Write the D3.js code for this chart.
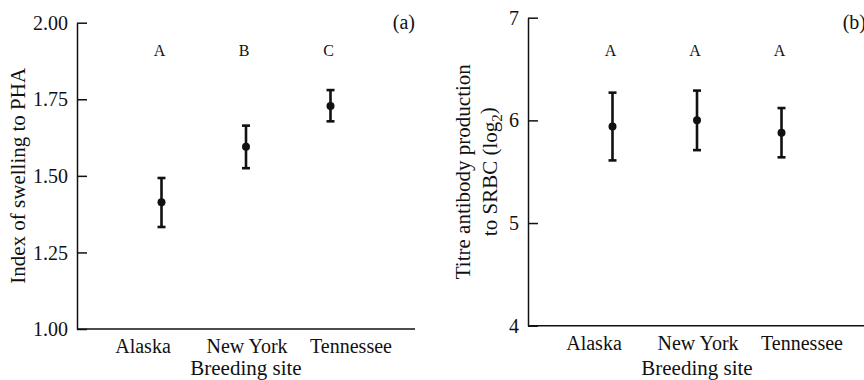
<!DOCTYPE html>
<html>
<head>
<meta charset="utf-8">
<script src="https://cdn.jsdelivr.net/npm/d3@7"></script>
<style>
  body { margin: 0; background: #fff; }
  svg { display: block; }
  svg text { font-family: "Liberation Serif", "Tinos", "Times New Roman", "DejaVu Serif", serif; fill: #111; }
  .axis path, .axis line { stroke: #111; stroke-width: 1.5; }
</style>
</head>
<body>
<svg id="chart" width="864" height="380"></svg>
<script>
// breeding sites (shared by both panels)
const sites = ['Alaska', 'New York', 'Tennessee'];

// panel (a): PHA swelling index, mean and error bar ends
const phaMean = [1.414, 1.595, 1.728];
const phaLow = [1.333, 1.525, 1.678];
const phaHigh = [1.493, 1.664, 1.780];
const phaGroups = ['A', 'B', 'C'];
const phaTicks = [1.00, 1.25, 1.50, 1.75, 2.00];

// panel (b): SRBC antibody titre (log2)
const srbcMean = [5.94, 6.00, 5.88];
const srbcLow = [5.61, 5.71, 5.64];
const srbcHigh = [6.27, 6.29, 6.12];
const srbcGroups = ['A', 'A', 'A'];
const srbcTicks = [4, 5, 6, 7];

const serif = '"Liberation Serif", "Tinos", "Times New Roman", "DejaVu Serif", serif';
const svg = d3.select('#chart');

function drawPanel(cfg) {
    const width = 338;
    const height = cfg.height;

    const g = svg.append('g')
        .attr('transform', `translate(${cfg.left},${cfg.top})`)
        .attr('font-family', serif);

    // points sit at 1,2,3 on a 0..4 scale
    const xScale = d3.scaleLinear()
        .domain([0, sites.length + 1])
        .range([0, width]);
    // category labels are spread a bit wider than the points
    const labelScale = d3.scalePoint()
        .domain(sites)
        .range([65.5, 273.5]);
    const yScale = d3.scaleLinear()
        .domain(cfg.domain)
        .range([height, 0]);

    // ticks point inward, labels sit just left of the axis line
    const yAxis = d3.axisLeft(yScale)
        .tickValues(cfg.ticks)
        .tickFormat(cfg.format)
        .tickSizeInner(-10)
        .tickSizeOuter(0)
        .tickPadding(9);

    g.append('g')
        .attr('class', 'axis y-axis')
        .call(yAxis)
        .attr('font-family', serif)
        .call(a => a.selectAll('text').attr('font-size', 20).attr('dy', '0.33em'));

    const xAxis = d3.axisBottom(labelScale)
        .tickSize(0)
        .tickPadding(10);

    g.append('g')
        .attr('class', 'axis x-axis')
        .attr('transform', `translate(0,${height})`)
        .call(xAxis)
        .attr('font-family', serif)
        .call(a => a.select('.domain').attr('d', `M0,0H${width}`))
        .call(a => a.selectAll('text').attr('font-size', 20).attr('dy', '0.71em'));

    // error bars
    const capW = 4;
    const bars = g.selectAll('.err')
        .data(sites)
        .join('g')
        .attr('class', 'err')
        .attr('stroke', '#111')
        .attr('stroke-width', 2.6);

    bars.append('line')
        .attr('x1', (d, i) => xScale(i + 1))
        .attr('x2', (d, i) => xScale(i + 1))
        .attr('y1', (d, i) => yScale(cfg.low[i]))
        .attr('y2', (d, i) => yScale(cfg.high[i]));
    bars.append('line')
        .attr('x1', (d, i) => xScale(i + 1) - capW)
        .attr('x2', (d, i) => xScale(i + 1) + capW)
        .attr('y1', (d, i) => yScale(cfg.low[i]))
        .attr('y2', (d, i) => yScale(cfg.low[i]));
    bars.append('line')
        .attr('x1', (d, i) => xScale(i + 1) - capW)
        .attr('x2', (d, i) => xScale(i + 1) + capW)
        .attr('y1', (d, i) => yScale(cfg.high[i]))
        .attr('y2', (d, i) => yScale(cfg.high[i]));

    g.selectAll('.dot')
        .data(cfg.mean)
        .join('circle')
        .attr('class', 'dot')
        .attr('cx', (d, i) => xScale(i + 1))
        .attr('cy', d => yScale(d))
        .attr('r', 4)
        .attr('fill', '#111');

    // significance letters
    g.selectAll('.grp')
        .data(cfg.groups)
        .join('text')
        .attr('class', 'grp')
        .attr('x', (d, i) => xScale(i + 1) - 2)
        .attr('y', 56 - cfg.top)
        .attr('text-anchor', 'middle')
        .attr('font-size', 16)
        .text(d => d);

    g.append('text')
        .attr('x', width)
        .attr('y', 29 - cfg.top)
        .attr('text-anchor', 'end')
        .attr('font-size', 20)
        .text(cfg.tag);

    g.append('text')
        .attr('x', width / 2)
        .attr('y', 375 - cfg.top)
        .attr('text-anchor', 'middle')
        .attr('font-size', 21)
        .text('Breeding site');

    const title = g.append('text')
        .attr('transform', `translate(${cfg.titleX},${height / 2}) rotate(-90)`)
        .attr('text-anchor', 'middle')
        .attr('font-size', 21);
    cfg.title(title);
}

drawPanel({
    left: 77, top: 22.7, height: 306.3,
    domain: [1, 2], ticks: phaTicks, format: d3.format('.2f'),
    mean: phaMean, low: phaLow, high: phaHigh, groups: phaGroups, tag: '(a)',
    titleX: -52,
    title: t => t.text('Index of swelling to PHA')
});

drawPanel({
    left: 528, top: 17.7, height: 308,
    domain: [4, 7], ticks: srbcTicks, format: d3.format('d'),
    mean: srbcMean, low: srbcLow, high: srbcHigh, groups: srbcGroups, tag: '(b)',
    titleX: -52,
    title: t => {
        t.append('tspan').attr('x', 0).attr('dy', '-0.3em').text('Titre antibody production');
        const l2 = t.append('tspan').attr('x', 0).attr('dy', '1.3em').text('to SRBC (log');
        l2.append('tspan').attr('font-size', 15).attr('dy', '0.3em').text('2');
        l2.append('tspan').attr('dy', '-0.3em').text(')');
    }
});
</script>
</body>
</html>
